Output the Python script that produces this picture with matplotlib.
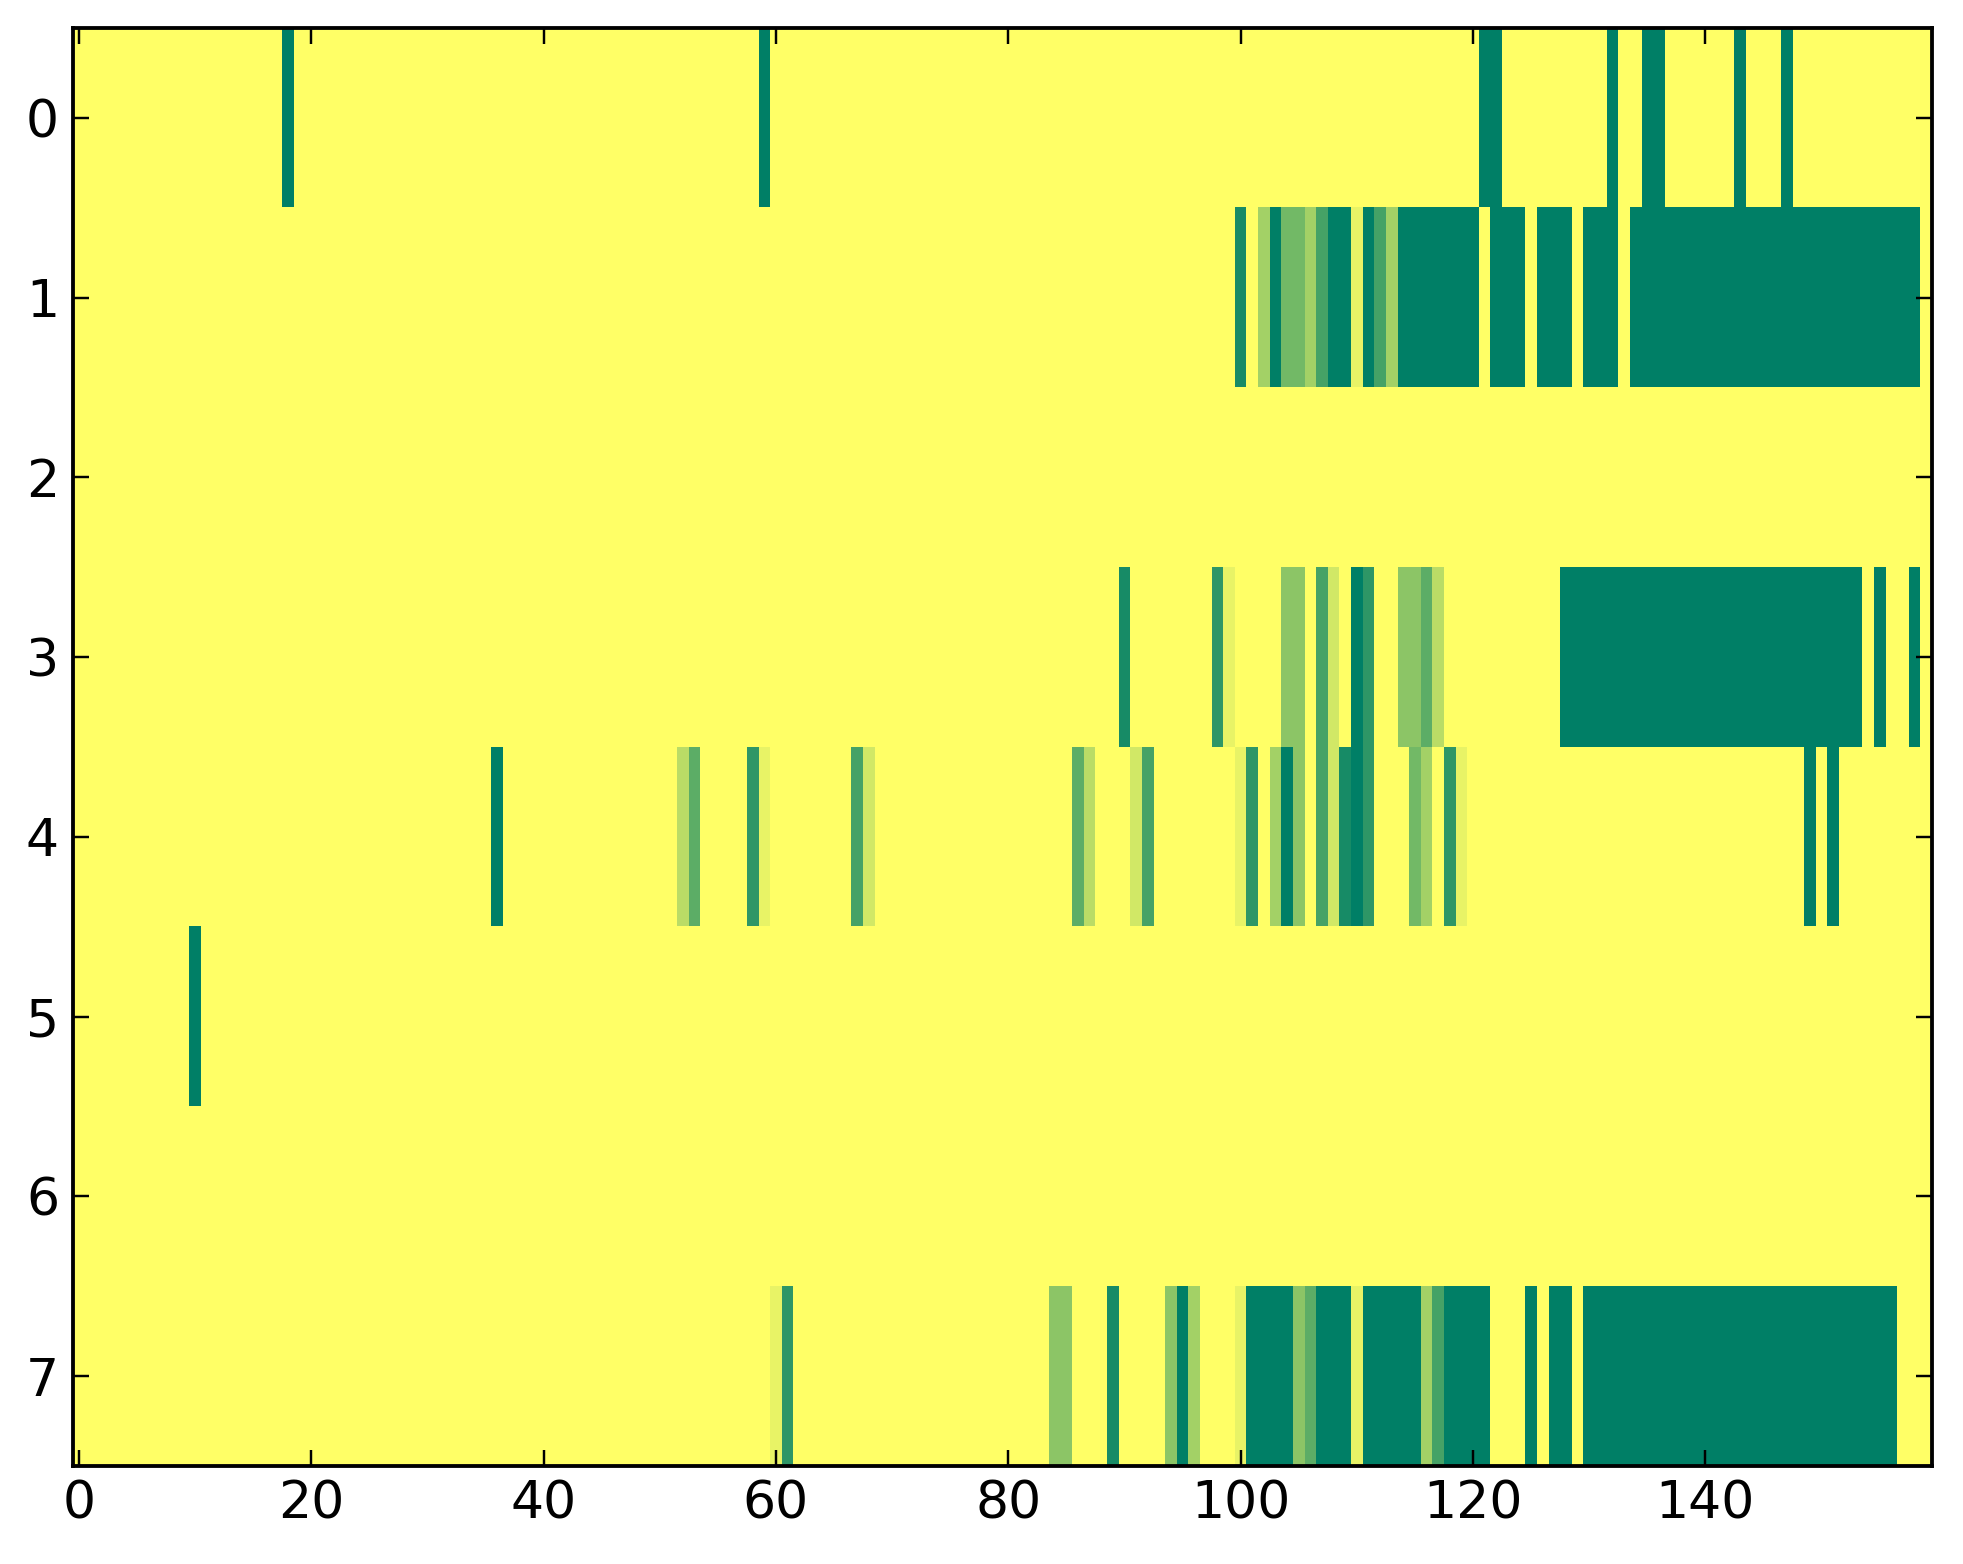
import numpy as np
import matplotlib
matplotlib.use("Agg")
import matplotlib.pyplot as plt

# tamaño de la matriz
n_rows = 8
n_cols = 160

# celdas no nulas por fila: columnas y valores (0..1)
row0_cols = [18, 59, 121, 122, 132, 135, 136, 143, 147]
row0_vals = [1.0] * len(row0_cols)

row1_cols = [100, 102, 103, 104, 105, 106, 107, 108, 109, 110, 111, 112, 113] \
    + list(range(114, 121)) + [122, 123, 124, 126, 127, 128, 130, 131, 132] \
    + list(range(134, 159))
row1_vals = [0.91, 0.36, 1.0, 0.55, 0.55, 0.36, 0.73, 1.0, 1.0, 0.09, 1.0, 0.73, 0.36] \
    + [1.0] * 7 + [1.0] * 9 + [1.0] * 25

row3_cols = [90, 98, 99, 104, 105, 107, 108, 110, 111, 114, 115, 116, 117] \
    + list(range(128, 154)) + [155, 158]
row3_vals = [0.91, 0.82, 0.09, 0.45, 0.45, 0.73, 0.18, 1.0, 0.82, 0.45, 0.45, 0.64, 0.27] \
    + [1.0] * 26 + [1.0, 1.0]

row4_cols = [36, 52, 53, 58, 59, 67, 68, 86, 87, 91, 92, 100, 101, 103, 104, 105,
             107, 108, 109, 110, 111, 115, 116, 118, 119, 149, 151]
row4_vals = [1.0, 0.27, 0.64, 0.82, 0.09, 0.73, 0.18, 0.64, 0.27, 0.18, 0.73, 0.09, 0.82,
             0.36, 1.0, 0.45, 0.73, 0.18, 0.91, 1.0, 0.82, 0.55, 0.36, 0.82, 0.09, 1.0, 1.0]

row5_cols = [10]
row5_vals = [1.0]

row7_cols = [60, 61, 84, 85, 89, 94, 95, 96, 100, 101, 102, 103, 104, 105, 106,
             107, 108, 109, 110, 111, 112, 113, 114, 115, 116, 117, 118, 119, 120, 121,
             125, 127, 128] + list(range(130, 157))
row7_vals = [0.09, 0.82, 0.45, 0.45, 0.91, 0.45, 1.0, 0.36, 0.09, 1.0, 1.0, 1.0, 1.0, 0.45, 0.64,
             1.0, 1.0, 1.0, 0.09, 1.0, 1.0, 1.0, 1.0, 1.0, 0.36, 0.73, 1.0, 1.0, 1.0, 1.0,
             1.0, 1.0, 1.0] + [1.0] * 27

rows = {0: (row0_cols, row0_vals), 1: (row1_cols, row1_vals), 3: (row3_cols, row3_vals),
        4: (row4_cols, row4_vals), 5: (row5_cols, row5_vals), 7: (row7_cols, row7_vals)}

M = np.zeros((n_rows, n_cols))
for r, (cols, vals) in rows.items():
    M[r, cols] = vals

fig = plt.figure(figsize=(7.852, 6.256), dpi=250)
ax = fig.add_axes([73 / 1963, 1 - 1466 / 1564, (1932 - 73) / 1963, (1466 - 28) / 1564])
ax.imshow(M, cmap='summer_r', vmin=0, vmax=1, aspect='auto', interpolation='nearest')

ax.set_xticks([0, 20, 40, 60, 80, 100, 120, 140])
ax.set_yticks(range(n_rows))
ax.tick_params(direction='in', top=True, right=True, length=4.5, width=0.7,
               labelsize=15, pad=4)
for s in ax.spines.values():
    s.set_linewidth(1.1)

plt.savefig('out.png', dpi=250)
